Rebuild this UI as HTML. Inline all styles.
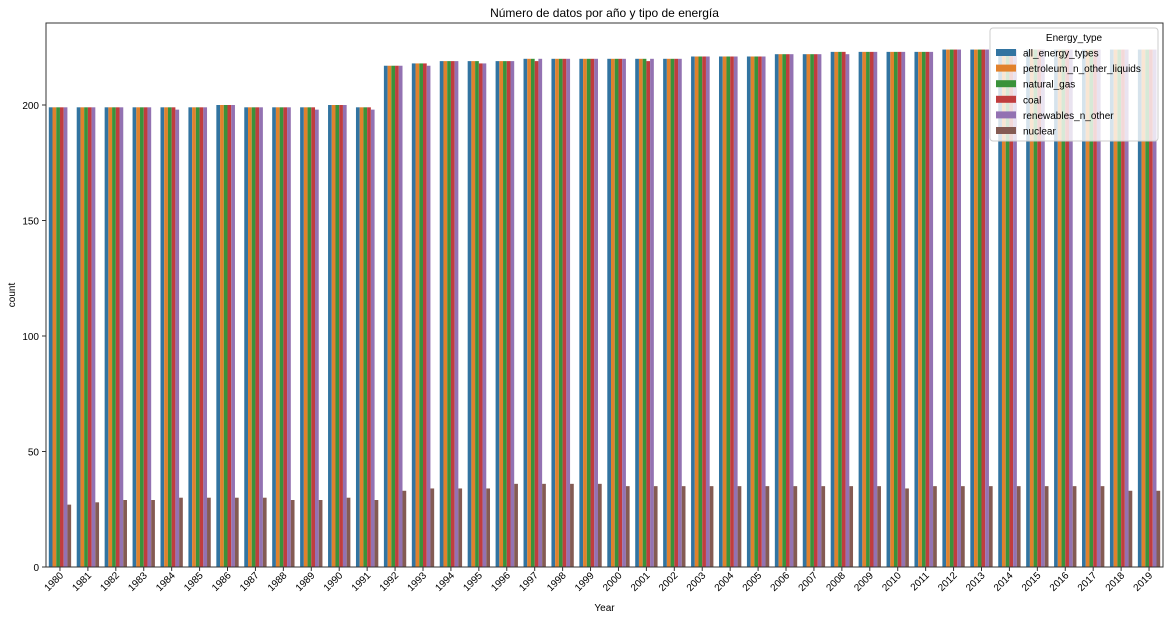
<!DOCTYPE html>
<html><head><meta charset="utf-8"><style>body{margin:0;background:#fff}svg{display:block;font-family:"Liberation Sans","DejaVu Sans",sans-serif}</style></head>
<body>
<svg id="c" width="1170" height="620"></svg>
<script>
const years=[];for(let y=1980;y<=2019;y++)years.push(String(y));
const allTypes=[199,199,199,199,199,199,200,199,199,199,200,199,217,218,219,219,219,220,220,220,220,220,220,221,221,221,222,222,223,223,223,223,224,224,224,224,224,224,224,224];
const petroleum=[199,199,199,199,199,199,200,199,199,199,200,199,217,218,219,219,219,220,220,220,220,220,220,221,221,221,222,222,223,223,223,223,224,224,224,224,224,224,224,224];
const naturalGas=[199,199,199,199,199,199,200,199,199,199,200,199,217,218,219,219,219,220,220,220,220,220,220,221,221,221,222,222,223,223,223,223,224,224,224,224,224,224,224,224];
const coal=[199,199,199,199,199,199,200,199,199,199,200,199,217,218,219,218,219,219,220,220,220,219,220,221,221,221,222,222,223,223,223,223,224,224,224,224,224,224,224,224];
const renewables=[199,199,199,199,198,199,200,199,199,198,200,198,217,217,219,218,219,220,220,220,220,220,220,221,221,221,222,222,222,223,223,223,224,224,224,224,224,224,224,224];
const nuclear=[27,28,29,29,30,30,30,30,29,29,30,29,33,34,34,34,36,36,36,36,35,35,35,35,35,35,35,35,35,35,34,35,35,35,35,35,35,35,33,33];
const seriesNames=["all_energy_types","petroleum_n_other_liquids","natural_gas","coal","renewables_n_other","nuclear"];
const seriesData=[allTypes,petroleum,naturalGas,coal,renewables,nuclear];
const colors=["#3274a1","#e1812c","#3a923a","#c03d3e","#9372b2","#845b53"];
const yTicks=[0,50,100,150,200];
const L=46,R=1163,T=23,B=567,ymax=235.5;
const NS="http://www.w3.org/2000/svg",svg=document.getElementById('c');
function mk(t,a,p){const e=document.createElementNS(NS,t);for(const k in a)e.setAttribute(k,a[k]);(p||svg).appendChild(e);return e;}
const bw=(R-L)/years.length;
const xs=i=>L+bw*i;
const ys=v=>B-(v/ymax)*(B-T);
const t=mk('text',{x:(L+R)/2,y:17,'text-anchor':'middle','font-size':12});t.textContent="Número de datos por año y tipo de energía";

const g=mk('g',{});
const sw=bw*0.8/6;
seriesData.forEach((arr,s)=>{arr.forEach((v,i)=>{
 const r=mk('rect',{x:xs(i)+bw*0.1+s*sw,y:ys(v),width:sw,height:B-ys(v),fill:colors[s]},g);
 
 
});});
mk('rect',{x:L,y:T,width:R-L,height:B-T,fill:'none',stroke:'#333','stroke-width':1});
yTicks.forEach(v=>{const y=ys(v);mk('line',{x1:L-4,x2:L,y1:y,y2:y,stroke:'#333'});
 const tx=mk('text',{x:L-7,y:y+4,'text-anchor':'end','font-size':10});tx.textContent=v;
 });
years.forEach((yr,i)=>{const x=xs(i)+bw/2;mk('line',{x1:x,x2:x,y1:B,y2:B+4,stroke:'#333'});
 const tx=mk('text',{x:x+4,y:B+9,'text-anchor':'end','font-size':10,transform:`rotate(-45 ${x+4} ${B+9})`});tx.textContent=yr;
 });
const xt=mk('text',{x:(L+R)/2,y:611,'text-anchor':'middle','font-size':10});xt.textContent="Year";

const yt=mk('text',{x:15,y:(T+B)/2,'text-anchor':'middle','font-size':10,transform:`rotate(-90 15 ${(T+B)/2})`});yt.textContent="count";

const lg=mk('g',{});
mk('rect',{x:990,y:28,width:168,height:113,rx:3,fill:'rgba(255,255,255,0.8)',stroke:'#ccc'},lg);
const lt=mk('text',{x:1074,y:41,'text-anchor':'middle','font-size':10},lg);lt.textContent="Energy_type";
seriesNames.forEach((n,s)=>{const y=53+s*15.6;
 const sq=mk('rect',{x:996,y:y-4,width:20,height:7,fill:colors[s]},lg);
 
 const tx=mk('text',{x:1023,y:y+3.5,'font-size':10},lg);tx.textContent=n;
 });
</script>
</body></html>
